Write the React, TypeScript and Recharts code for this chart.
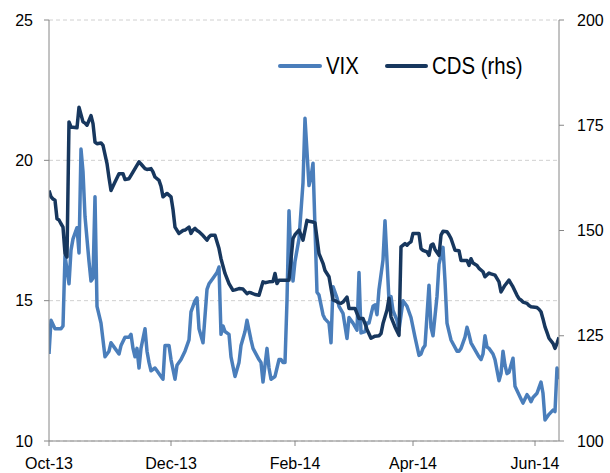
import React from 'react';
import { LineChart, Line, XAxis, YAxis, CartesianGrid, Legend } from 'recharts';

// Days counted from 1 Oct 2013
const tickDays = [0, 61, 123, 182, 243];
const tickLabels = ['Oct-13', 'Dec-13', 'Feb-14', 'Apr-14', 'Jun-14'];

const vixTicks = [10, 15, 20, 25];
const cdsTicks = [100, 125, 150, 175, 200];

const vixDays = [
  0, 1, 3, 4, 6, 7, 8, 10, 11, 12, 14, 15, 16, 17, 18, 20, 21, 22, 23, 24, 26, 28, 30, 31, 33, 35, 36, 38, 40, 41,
  42, 43, 44, 45, 46, 48, 49, 50, 51, 53, 54, 56, 57, 58, 60, 61, 63, 64, 66, 68, 70, 71, 73, 74, 75, 77, 79, 80,
  82, 84, 85, 86, 87, 88, 90, 91, 93, 95, 96, 98, 99, 101, 102, 105, 106, 107, 109, 110, 111, 113, 114, 115, 116,
  117, 118, 119, 120, 121, 122, 123, 125, 127, 128, 130, 131, 132, 134, 135, 137, 138, 140, 141, 142, 144, 145,
  147, 149, 150, 152, 154, 155, 156, 158, 159, 160, 162, 163, 164, 165, 167, 168, 170, 171, 172, 174, 175, 177,
  179, 181, 183, 185, 186, 187, 188, 190, 191, 192, 194, 195, 197, 198, 199, 200, 201, 204, 205, 206, 208, 209,
  210, 211, 213, 215, 216, 217, 218, 219, 220, 222, 223, 225, 226, 227, 228, 229, 230, 232, 233, 234, 235, 236,
  237, 239, 240, 241, 242, 244, 245, 246, 247, 248, 250, 252, 253, 254, 255,
];
const vixValues = [
  13.1, 14.3, 14.0, 14.0, 14.0, 14.1, 16.6, 15.6, 16.8, 17.2, 17.6, 16.7, 20.4, 19.6, 18.0, 16.4, 15.7, 15.8, 18.7,
  14.8, 14.2, 13.0, 13.2, 13.5, 13.3, 13.1, 13.4, 13.7, 13.7, 13.8, 13.3, 13.0, 13.3, 12.6, 13.3, 14.0, 13.2, 12.8,
  12.5, 12.6, 12.5, 12.3, 12.2, 13.4, 13.4, 12.9, 12.2, 12.7, 12.9, 13.2, 13.6, 14.6, 15.0, 15.1, 14.0, 13.5, 15.4,
  15.6, 15.8, 16.0, 16.2, 13.8, 14.1, 13.9, 13.8, 13.0, 12.3, 12.8, 13.4, 13.9, 14.3, 13.6, 13.3, 12.9, 12.8, 12.1,
  13.3, 12.6, 12.2, 12.3, 12.6, 12.9, 12.9, 12.8, 12.8, 15.0, 18.2, 16.5, 15.7, 16.4, 17.2, 19.2, 21.5, 19.1, 19.4,
  19.9, 15.3, 15.2, 14.5, 14.35, 14.2, 13.5, 15.5, 15.1, 14.8, 14.55, 13.65, 14.4, 14.2, 13.95, 16.0, 13.85, 13.9,
  14.2, 14.2, 14.8, 14.85, 14.5, 15.4, 16.45, 17.85, 15.0, 15.15, 14.65, 14.3, 13.95, 15.0, 14.8, 14.4, 13.7, 13.05,
  13.1, 13.3, 13.4, 15.55, 14.05, 13.75, 15.15, 16.3, 16.9, 15.7, 14.2, 13.9, 13.6, 13.2, 13.2, 13.3, 13.7, 14.05,
  13.8, 13.5, 13.25, 13.0, 12.9, 13.1, 13.75, 13.35, 13.3, 13.1, 12.9, 12.15, 12.4, 13.2, 12.7, 12.4, 12.45, 12.95,
  11.95, 11.8, 11.65, 11.5, 11.35, 11.65, 11.55, 11.4, 11.55, 11.7, 11.9, 12.1, 11.7, 10.75, 10.95, 11.1, 11.05,
  12.6, 12.2,
];

const cdsDays = [
  0, 1, 2, 3, 4, 5, 6, 7, 8, 9, 10, 11, 12, 14, 15, 17, 18, 19, 21, 22, 23, 24, 26, 27, 29, 30, 31, 32, 33, 35, 37,
  38, 40, 41, 43, 45, 46, 48, 49, 51, 52, 53, 55, 56, 57, 59, 61, 62, 63, 65, 67, 68, 70, 71, 72, 73, 74, 75, 77, 79,
  80, 81, 83, 85, 86, 88, 90, 92, 93, 95, 97, 99, 100, 101, 103, 105, 107, 108, 110, 112, 113, 114, 115, 118, 120,
  122, 123, 125, 127, 129, 130, 132, 133, 135, 137, 138, 140, 142, 144, 145, 146, 147, 149, 150, 151, 153, 155, 157,
  158, 159, 161, 163, 165, 166, 167, 169, 170, 171, 173, 175, 176, 178, 179, 180, 181, 182, 185, 186, 187, 189, 190,
  191, 192, 193, 195, 196, 197, 199, 200, 201, 203, 205, 206, 207, 209, 210, 211, 212, 214, 215, 217, 218, 220, 221,
  223, 225, 226, 228, 230, 231, 232, 234, 235, 236, 237, 239, 240, 241, 244, 245, 246, 247, 248, 249, 250, 252, 253,
  254, 255,
];
const cdsValues = [
  159.5, 158, 157.5, 157.2, 152.8, 152.5, 151.6, 150.8, 144.5, 143.7, 175.8, 174.6, 174.5, 174.4, 179.3, 175.8,
  175.5, 175.0, 177.3, 175.4, 171, 170.6, 170.8, 170.2, 165.9, 162.5, 159.5, 160.5, 161.5, 163.5, 163.5, 162.1,
  162.3, 163.1, 164.7, 166.3, 165.8, 164.7, 164.5, 164.7, 163.9, 162.7, 161.9, 160.5, 158, 158.8, 158, 155, 150.8,
  149.3, 150, 150.1, 150.8, 149.3, 150.1, 150.5, 150, 149.7, 148.8, 147.7, 148.5, 148.9, 148.9, 145.7, 143.3, 139.8,
  137.4, 135.8, 135.9, 136.2, 136.1, 135, 135.3, 135.2, 134.8, 134.6, 137.8, 137.6, 137.8, 137.9, 139.8, 137.4,
  138.2, 138.2, 138.2, 148.1, 149, 150.1, 147.7, 152.4, 152.2, 152, 151.8, 144.5, 142.2, 140.5, 139, 133.5, 133.1,
  132.8, 132.7, 133, 134.2, 131.5, 131.5, 131.5, 129.1, 129.1, 127.9, 126.5, 124.4, 124.9, 125, 125.5, 127.9, 131.1,
  133.9, 129.5, 127.1, 125.1, 146.1, 146.9, 146.5, 147, 147.3, 149.3, 149.3, 145.7, 145.3, 144.9, 144.1, 146.5,
  146.8, 145.5, 144.1, 148.9, 149.8, 149.7, 149, 148.1, 145.3, 145.2, 142.9, 142.9, 142.9, 141.7, 143.3, 142.3,
  141.7, 141, 140.2, 139, 139.9, 139.7, 139.4, 137.8, 135.4, 137, 138.2, 137.4, 136.6, 134.6, 133.8, 133.5, 133,
  132.7, 132.2, 131.9, 131.7, 131.3, 130.7, 129, 127.1, 125.8, 124.4, 123.2, 122, 123.2, 124.6,
];

const VIX_COLOR = '#4a7ebb';
const CDS_COLOR = '#17375e';
const AXIS_COLOR = '#868686';
const FONT = '"Liberation Sans", Arial, sans-serif';

const vixData = vixDays.map((d, i) => ({ day: d, vix: vixValues[i] }));
const cdsData = cdsDays.map((d, i) => ({ day: d, cds: cdsValues[i] }));

const tickStyle = { fill: '#000', fontSize: 16, fontFamily: FONT };

const legendItems = [
  { name: 'VIX', color: VIX_COLOR, lineLeft: 278, lineWidth: 44, textLeft: 326 },
  { name: 'CDS (rhs)', color: CDS_COLOR, lineLeft: 385, lineWidth: 43, textLeft: 432 },
];

const renderLegend = () => (
  <div style={{ position: 'relative', width: 610, height: 30 }}>
    {legendItems.map((item) => (
      <React.Fragment key={item.name}>
        <div
          style={{
            position: 'absolute',
            left: item.lineLeft,
            top: 10,
            width: item.lineWidth,
            height: 4,
            borderRadius: 2,
            background: item.color,
          }}
        />
        <span
          style={{
            position: 'absolute',
            left: item.textLeft,
            top: 0,
            fontFamily: FONT,
            fontSize: 24,
            lineHeight: '24px',
            color: '#000',
            whiteSpace: 'nowrap',
            transform: 'scaleX(0.85)',
            transformOrigin: 'left center',
          }}
        >
          {item.name}
        </span>
      </React.Fragment>
    ))}
  </div>
);

export default function App() {
  return (
    <div style={{ position: 'absolute', left: 0, top: 0, width: 610, height: 473, background: '#fff' }}>
      <LineChart width={610} height={473} margin={{ top: 20, right: 0, bottom: 0, left: 0 }}>
        <CartesianGrid
          yAxisId="left"
          vertical={false}
          stroke="#d0d0d0"
          strokeDasharray="4 3"
        />
        <XAxis
          type="number"
          dataKey="day"
          domain={[0, 255]}
          ticks={tickDays}
          tickFormatter={(d: number) => tickLabels[tickDays.indexOf(d)] ?? ''}
          allowDataOverflow
          height={32}
          stroke={AXIS_COLOR}
          tickSize={5}
          tickMargin={12}
          tick={tickStyle}
        />
        <YAxis
          yAxisId="left"
          orientation="left"
          domain={[10, 25]}
          ticks={vixTicks}
          width={49}
          stroke={AXIS_COLOR}
          tickSize={5}
          tickMargin={11}
          tick={tickStyle}
          allowDataOverflow
        />
        <YAxis
          yAxisId="right"
          orientation="right"
          domain={[100, 200]}
          ticks={cdsTicks}
          width={51}
          stroke={AXIS_COLOR}
          tickSize={5}
          tickMargin={13}
          tick={{ ...tickStyle, textAnchor: 'start' }}
          allowDataOverflow
        />
        <Legend
          layout="horizontal"
          verticalAlign="middle"
          align="center"
          content={renderLegend}
          wrapperStyle={{ position: 'absolute', top: 54, left: 0, width: 610 }}
        />
        <Line
          yAxisId="left"
          data={vixData}
          dataKey="vix"
          name="VIX"
          type="linear"
          stroke={VIX_COLOR}
          strokeWidth={3.5}
          strokeLinejoin="round"
          dot={false}
          activeDot={false}
          isAnimationActive={false}
        />
        <Line
          yAxisId="right"
          data={cdsData}
          dataKey="cds"
          name="CDS (rhs)"
          type="linear"
          stroke={CDS_COLOR}
          strokeWidth={3.5}
          strokeLinejoin="round"
          dot={false}
          activeDot={false}
          isAnimationActive={false}
        />
      </LineChart>
    </div>
  );
}
